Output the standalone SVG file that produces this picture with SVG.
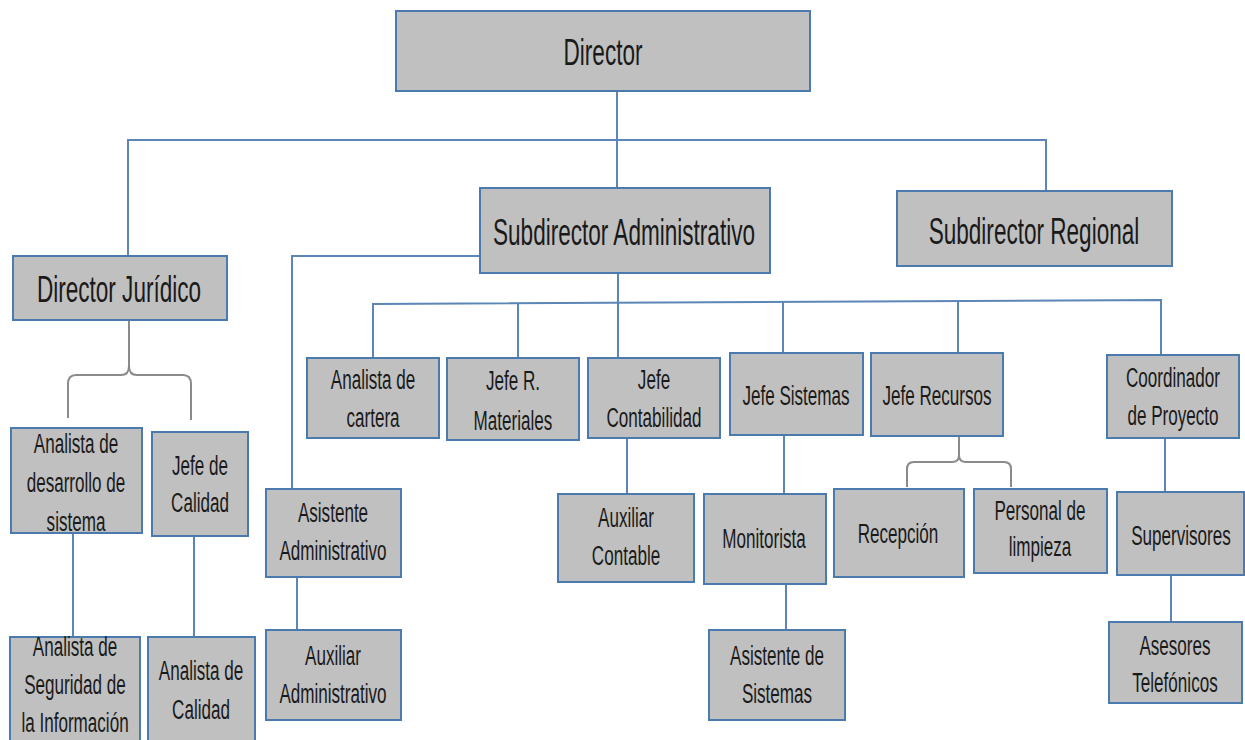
<svg xmlns="http://www.w3.org/2000/svg" width="1245" height="740" viewBox="0 0 1245 740">
  <style>
    .box { fill: #c0c0c0; stroke: #4a7aae; stroke-width: 2; }
    .ln { fill: none; stroke: #5b86b6; stroke-width: 2; }
    .brace { fill: none; stroke: #8a8a8a; stroke-width: 2; }
    text { font-family: "Liberation Sans", Arial, sans-serif; fill: #1a1a1a; text-anchor: middle; }
    .t1 { font-size: 37px; }
    .t2 { font-size: 28px; }
  </style>
  <rect width="1245" height="740" fill="#ffffff"/>

  <!-- connectors -->
  <g id="connectors">
    <path class="ln" d="M617 80 V188"/>
    <path class="ln" d="M128 256 V140 H1046 V191"/>
    <path class="ln" d="M480 256 H292 V489"/>
    <path class="ln" d="M618 273 V358"/>
    <path class="ln" d="M373 358 V304 L1161 300 V355"/>
    <path class="ln" d="M518 303 V358"/>
    <path class="ln" d="M783 302 V353"/>
    <path class="ln" d="M958 301 V353"/>
    <path class="ln" d="M73 533 V637"/>
    <path class="ln" d="M194 536 V637"/>
    <path class="ln" d="M297 577 V630"/>
    <path class="ln" d="M627 438 V494"/>
    <path class="ln" d="M784 435 V494"/>
    <path class="ln" d="M786 584 V630"/>
    <path class="ln" d="M1165 438 V492"/>
    <path class="ln" d="M1171 575 V622"/>
    <path class="brace" d="M129 320 V366 Q129 375 121 375 H76 Q68 375 68 384 V418"/>
    <path class="brace" d="M129 366 Q129 375 137 375 H183 Q191 375 191 384 V420"/>
    <path class="brace" d="M959 436 V455 Q959 462 952 462 H914 Q907 462 907 469 V487"/>
    <path class="brace" d="M959 455 Q959 462 966 462 H1004 Q1011 462 1011 469 V487"/>
  </g>

  <g id="director">
    <rect class="box" x="396" y="11" width="414" height="80"/>
    <text class="t1" transform="translate(603 0) scale(0.61 1)"><tspan x="0" y="65">Director</tspan></text>
  </g>
  <g id="subdirector-administrativo">
    <rect class="box" x="480" y="188" width="290" height="85"/>
    <text class="t1" transform="translate(624 0) scale(0.61 1)"><tspan x="0" y="245">Subdirector Administrativo</tspan></text>
  </g>
  <g id="subdirector-regional">
    <rect class="box" x="897" y="191" width="275" height="75"/>
    <text class="t1" transform="translate(1034 0) scale(0.61 1)"><tspan x="0" y="244">Subdirector Regional</tspan></text>
  </g>
  <g id="director-juridico">
    <rect class="box" x="13" y="256" width="214" height="64"/>
    <text class="t1" transform="translate(119 0) scale(0.61 1)"><tspan x="0" y="302">Director Jurídico</tspan></text>
  </g>

  <g id="analista-desarrollo">
    <rect class="box" x="11" y="428" width="131" height="105"/>
    <text class="t2" transform="translate(76 0) scale(0.61 1)"><tspan x="0" y="453">Analista de</tspan><tspan x="0" y="492">desarrollo de</tspan><tspan x="0" y="531">sistema</tspan></text>
  </g>
  <g id="jefe-calidad">
    <rect class="box" x="152" y="432" width="96" height="104"/>
    <text class="t2" transform="translate(200 0) scale(0.61 1)"><tspan x="0" y="475">Jefe de</tspan><tspan x="0" y="512">Calidad</tspan></text>
  </g>
  <g id="analista-seguridad">
    <rect class="box" x="10" y="637" width="130" height="110"/>
    <text class="t2" transform="translate(75 0) scale(0.61 1)"><tspan x="0" y="656">Analista de</tspan><tspan x="0" y="694">Seguridad de</tspan><tspan x="0" y="732">la Información</tspan></text>
  </g>
  <g id="analista-calidad">
    <rect class="box" x="148" y="637" width="107" height="110"/>
    <text class="t2" transform="translate(201 0) scale(0.61 1)"><tspan x="0" y="680">Analista de</tspan><tspan x="0" y="719">Calidad</tspan></text>
  </g>

  <g id="asistente-administrativo">
    <rect class="box" x="266" y="489" width="135" height="88"/>
    <text class="t2" transform="translate(333 0) scale(0.61 1)"><tspan x="0" y="522">Asistente</tspan><tspan x="0" y="560">Administrativo</tspan></text>
  </g>
  <g id="auxiliar-administrativo">
    <rect class="box" x="266" y="630" width="135" height="90"/>
    <text class="t2" transform="translate(333 0) scale(0.61 1)"><tspan x="0" y="665">Auxiliar</tspan><tspan x="0" y="703">Administrativo</tspan></text>
  </g>

  <g id="analista-cartera">
    <rect class="box" x="307" y="358" width="132" height="80"/>
    <text class="t2" transform="translate(373 0) scale(0.61 1)"><tspan x="0" y="389">Analista de</tspan><tspan x="0" y="427">cartera</tspan></text>
  </g>
  <g id="jefe-materiales">
    <rect class="box" x="447" y="358" width="132" height="82"/>
    <text class="t2" transform="translate(513 0) scale(0.61 1)"><tspan x="0" y="390">Jefe R.</tspan><tspan x="0" y="430">Materiales</tspan></text>
  </g>
  <g id="jefe-contabilidad">
    <rect class="box" x="588" y="358" width="132" height="80"/>
    <text class="t2" transform="translate(654 0) scale(0.61 1)"><tspan x="0" y="389">Jefe</tspan><tspan x="0" y="427">Contabilidad</tspan></text>
  </g>
  <g id="jefe-sistemas">
    <rect class="box" x="730" y="353" width="133" height="82"/>
    <text class="t2" transform="translate(796 0) scale(0.61 1)"><tspan x="0" y="405">Jefe Sistemas</tspan></text>
  </g>
  <g id="jefe-recursos">
    <rect class="box" x="871" y="353" width="132" height="83"/>
    <text class="t2" transform="translate(937 0) scale(0.61 1)"><tspan x="0" y="405">Jefe Recursos</tspan></text>
  </g>
  <g id="coordinador-proyecto">
    <rect class="box" x="1107" y="355" width="132" height="83"/>
    <text class="t2" transform="translate(1173 0) scale(0.61 1)"><tspan x="0" y="387">Coordinador</tspan><tspan x="0" y="425">de Proyecto</tspan></text>
  </g>

  <g id="auxiliar-contable">
    <rect class="box" x="558" y="494" width="136" height="88"/>
    <text class="t2" transform="translate(626 0) scale(0.61 1)"><tspan x="0" y="527">Auxiliar</tspan><tspan x="0" y="565">Contable</tspan></text>
  </g>
  <g id="monitorista">
    <rect class="box" x="704" y="494" width="122" height="90"/>
    <text class="t2" transform="translate(764 0) scale(0.61 1)"><tspan x="0" y="548">Monitorista</tspan></text>
  </g>
  <g id="asistente-sistemas">
    <rect class="box" x="709" y="630" width="136" height="90"/>
    <text class="t2" transform="translate(777 0) scale(0.61 1)"><tspan x="0" y="665">Asistente de</tspan><tspan x="0" y="703">Sistemas</tspan></text>
  </g>
  <g id="recepcion">
    <rect class="box" x="834" y="489" width="130" height="88"/>
    <text class="t2" transform="translate(898 0) scale(0.61 1)"><tspan x="0" y="543">Recepción</tspan></text>
  </g>
  <g id="personal-limpieza">
    <rect class="box" x="974" y="489" width="133" height="84"/>
    <text class="t2" transform="translate(1040 0) scale(0.61 1)"><tspan x="0" y="520">Personal de</tspan><tspan x="0" y="556">limpieza</tspan></text>
  </g>
  <g id="supervisores">
    <rect class="box" x="1117" y="492" width="127" height="83"/>
    <text class="t2" transform="translate(1181 0) scale(0.61 1)"><tspan x="0" y="545">Supervisores</tspan></text>
  </g>
  <g id="asesores-telefonicos">
    <rect class="box" x="1109" y="622" width="133" height="81"/>
    <text class="t2" transform="translate(1175 0) scale(0.61 1)"><tspan x="0" y="655">Asesores</tspan><tspan x="0" y="692">Telefónicos</tspan></text>
  </g>
</svg>
